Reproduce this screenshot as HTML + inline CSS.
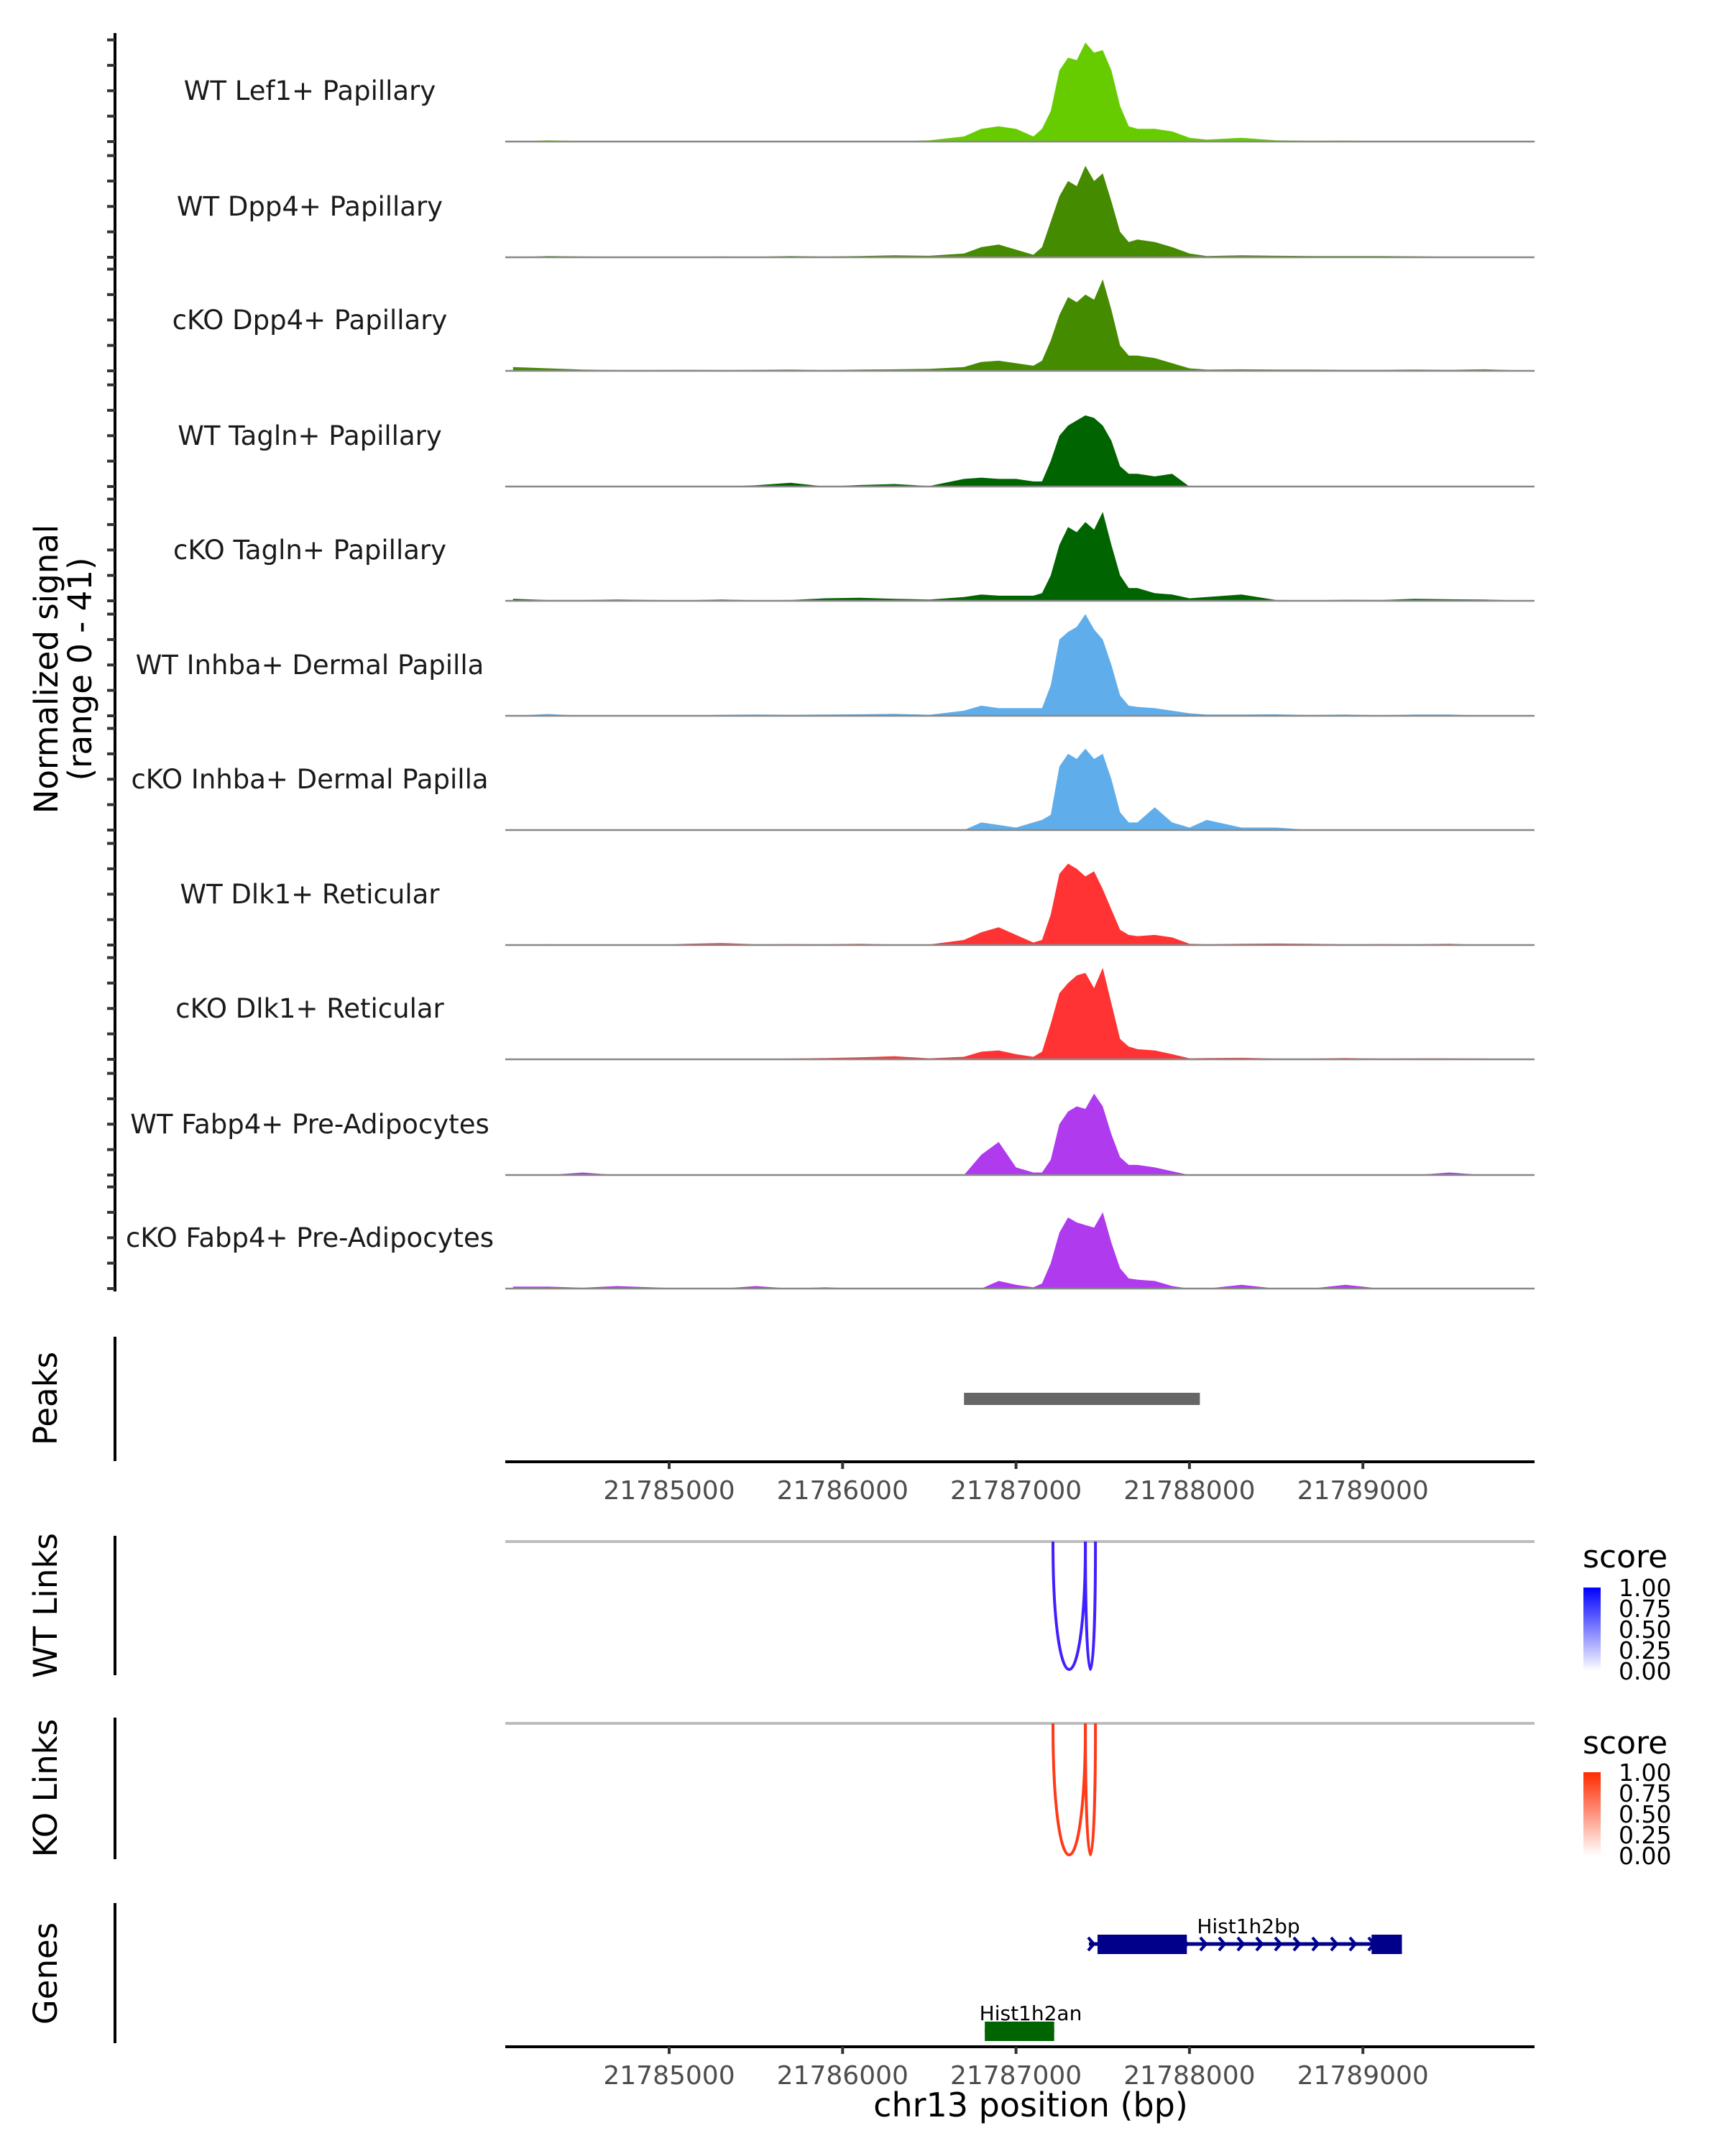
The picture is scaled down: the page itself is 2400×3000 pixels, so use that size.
<!DOCTYPE html>
<html><head><meta charset="utf-8">
<style>
html,body{margin:0;padding:0;background:#fff;}
svg{display:block;font-family:"DejaVu Sans","Liberation Sans",sans-serif;}
</style></head>
<body>
<svg id="fig" width="2400" height="3000" viewBox="0 0 2400 3000" xmlns="http://www.w3.org/2000/svg">
<rect width="2400" height="3000" fill="#fff"/>
<g id="tracks"></g>
<line x1="160" y1="46" x2="160" y2="1797" stroke="#000" stroke-width="4"/>
<g id="yticks"></g>
<text transform="translate(80,931) rotate(-90)" text-anchor="middle" font-size="45" fill="#000">Normalized signal</text>
<text transform="translate(127,931) rotate(-90)" text-anchor="middle" font-size="45" fill="#000">(range 0 - 41)</text>

<line x1="160" y1="1860" x2="160" y2="2033" stroke="#000" stroke-width="4"/>
<text transform="translate(79,1946) rotate(-90)" text-anchor="middle" font-size="45">Peaks</text>
<g id="peaks"></g>
<g id="axis1"></g>

<line x1="160" y1="2137" x2="160" y2="2331" stroke="#000" stroke-width="4"/>
<text transform="translate(79,2234) rotate(-90)" text-anchor="middle" font-size="45">WT Links</text>
<line x1="160" y1="2390" x2="160" y2="2587" stroke="#000" stroke-width="4"/>
<text transform="translate(79,2488) rotate(-90)" text-anchor="middle" font-size="45">KO Links</text>
<g id="links"></g>

<defs>
<linearGradient id="gBlue" x1="0" y1="1" x2="0" y2="0"><stop offset="0" stop-color="#fff"/><stop offset="1" stop-color="#0000ff"/></linearGradient>
<linearGradient id="gRed" x1="0" y1="1" x2="0" y2="0"><stop offset="0" stop-color="#fff"/><stop offset="1" stop-color="#ff2a00"/></linearGradient>
</defs>
<g>
<text x="2202" y="2181" font-size="44">score</text>
<rect x="2203" y="2209" width="24" height="116" fill="url(#gBlue)"/>
<g font-size="33">
<text x="2252" y="2221">1.00</text><text x="2252" y="2250">0.75</text><text x="2252" y="2279">0.50</text><text x="2252" y="2308">0.25</text><text x="2252" y="2337">0.00</text></g>
</g>
<g>
<text x="2202" y="2440" font-size="44">score</text>
<rect x="2203" y="2466" width="24" height="116" fill="url(#gRed)"/>
<g font-size="33">
<text x="2252" y="2478">1.00</text><text x="2252" y="2507">0.75</text><text x="2252" y="2536">0.50</text><text x="2252" y="2565">0.25</text><text x="2252" y="2594">0.00</text></g>
</g>

<line x1="160" y1="2648" x2="160" y2="2843" stroke="#000" stroke-width="4"/>
<text transform="translate(79,2746) rotate(-90)" text-anchor="middle" font-size="45">Genes</text>
<g id="genes"></g>
<g id="axis2"></g>
<text x="1434" y="2945" text-anchor="middle" font-size="46">chr13 position (bp)</text>
</svg>
<script>
// genomic bin positions (bp)
const positions = [21784100,21784300,21784500,21784700,21784900,21785100,21785300,21785500,21785700,21785900,21786100,21786300,21786500,21786700,21786800,21786900,21787000,21787100,21787150,21787200,21787250,21787300,21787350,21787400,21787450,21787500,21787550,21787600,21787650,21787700,21787800,21787900,21788000,21788100,21788300,21788500,21788700,21788900,21789100,21789300,21789500,21789700,21790000];
const trackNames = ["WT Lef1+ Papillary","WT Dpp4+ Papillary","cKO Dpp4+ Papillary","WT Tagln+ Papillary","cKO Tagln+ Papillary","WT Inhba+ Dermal Papilla","cKO Inhba+ Dermal Papilla","WT Dlk1+ Reticular","cKO Dlk1+ Reticular","WT Fabp4+ Pre-Adipocytes","cKO Fabp4+ Pre-Adipocytes"];
const trackColors = ["#66cc00","#458b00","#458b00","#006400","#006400","#5faeeb","#5faeeb","#ff3333","#ff3333","#b03aee","#b03aee"];
const wtLef1 = [0,0.5,0.2,0.1,0,0.1,0.2,0.1,0,0.1,0.2,0.1,0.5,2,5,6,5,2,5,12,28,33,32,39,35,36,28,14,6,5,5,4,1.5,0.8,1.5,0.5,0.3,0.4,0.1,0.1,0.1,0.1,0.1];
const wtDpp4 = [0,0.5,0.3,0.2,0.1,0.2,0.3,0.2,0.5,0.3,0.5,0.8,0.6,1.5,4,5,3,1,4,14,24,30,28,36,30,33,22,10,6,7,6,4,1.5,0.5,0.8,0.6,0.5,0.5,0.5,0.4,0.2,0.1,0];
const koDpp4 = [1.5,1,0.5,0.3,0.3,0.4,0.3,0.4,0.5,0.3,0.5,0.6,0.8,1.5,3.5,4,3,2,4,12,22,29,27,30,28,36,24,10,6,6,5,3,1,0.5,0.6,0.5,0.5,0.4,0.4,0.5,0.4,0.6,0];
const wtTagln = [0,0,0,0,0,0,0,0.5,1.5,0,0.6,1,0.2,3,3.5,3,3,2,2,10,20,24,26,28,27,24,18,8,5,5,4,5,0,0,0,0,0,0,0,0,0,0,0];
const koTagln = [0.8,0.3,0.3,0.5,0.3,0.2,0.5,0.2,0.3,1,1.2,0.8,0.5,1.5,2.5,2,2,2,3,10,22,29,27,31,28,35,22,10,5,5,3,2.5,1,1.5,2.5,0.3,0.2,0.4,0.3,0.8,0.6,0.5,0];
const wtInhba = [0,0.7,0,0,0,0,0.4,0.5,0.4,0.5,0.6,0.8,0.4,2,4,3,3,3,3,12,30,33,35,40,34,30,20,8,4,3.5,3,2,1,0.5,0.5,0.6,0.3,0.5,0.2,0.5,0.5,0,0];
const koInhba = [0,0,0,0,0,0,0,0,0,0,0,0,0,0,3,2,1,3,4,6,25,30,28,32,28,30,20,7,3,3,9,3,1,4,1,1,0,0,0,0,0,0,0];
const wtDlk1 = [0,0.3,0,0,0,0.5,0.8,0.3,0.4,0.3,0.5,0.2,0.2,2,5,7,4,1,2,12,28,32,30,27,29,22,14,6,4,3.5,4,3,0.5,0.3,0.5,0.6,0.5,0.3,0.4,0.3,0.5,0,0];
const koDlk1 = [0,0.2,0,0,0,0,0,0,0.3,0.5,0.8,1.2,0.4,1,3,3.5,2,1,3,14,26,30,33,34,28,36,22,8,5,4,3.5,2,0.4,0.5,0.6,0.3,0.3,0.5,0.3,0.4,0.4,0.3,0];
const wtFabp4 = [0,0,1,0,0,0,0,0,0,0,0,0,0,0,8,13,3,1,1,6,20,25,27,26,32,27,16,7,4,4,3,1.5,0,0,0,0,0,0,0,0,1,0,0];
const koFabp4 = [0.8,0.8,0.3,1,0.5,0,0,1,0,0.5,0,0,0,0,0,3,1.5,0.5,2,10,22,28,26,25,24,30,18,8,4,3.5,3,1,0,0,1.5,0,0,1.5,0,0,0,0,0];
const trackValues = [wtLef1,wtDpp4,koDpp4,wtTagln,koTagln,wtInhba,koInhba,wtDlk1,koDlk1,wtFabp4,koFabp4];
const yMax = 41;
const xTicks = [21785000,21786000,21787000,21788000,21789000];
const peakStart = [21786700];
const peakEnd = [21788060];
const linkStart = [21787213,21787400];
const linkEnd = [21787400,21787458];
const linkScore = [1,1];
const geneNames = ["Hist1h2bp","Hist1h2an"];
const geneStart = [21787420,21786820];
const geneEnd = [21789225,21787220];
const exonStart = [21787470,21789050,21786820];
const exonEnd = [21787985,21789225,21787220];
const exonGene = [0,0,1];

const NS="http://www.w3.org/2000/svg";
const X0=931, BP0=21785000, PXBP=0.2413, PLOTL=703, PLOTR=2135;
function xs(bp){return X0+(bp-BP0)*PXBP;}
const baselines=[197,358,516,677,836,996,1155,1315,1474,1635,1793];
const UNIT=145/yMax;
function ys(i,v){return baselines[i]-v*UNIT;}
function mk(tag,attrs,parent){const e=document.createElementNS(NS,tag);for(const k in attrs)e.setAttribute(k,attrs[k]);parent.appendChild(e);return e;}

const tracks=document.getElementById('tracks');
const yt=document.getElementById('yticks');
trackValues.forEach((vals,i)=>{
  const g=mk('g',{},tracks);
  
  
  let d='M'+PLOTL+','+baselines[i]+' L'+xs(positions[0]).toFixed(1)+','+baselines[i];
  vals.forEach((v,j)=>{d+=' L'+xs(positions[j]).toFixed(1)+','+ys(i,v).toFixed(1);});
  d+=' L'+xs(positions[positions.length-1]).toFixed(1)+','+baselines[i]+' Z';
  const a=mk('path',{d:d,fill:trackColors[i]},g);
  
  
  const b=mk('line',{x1:PLOTL,x2:PLOTR,y1:baselines[i],y2:baselines[i],stroke:'#888',"stroke-width":2.5},g);
  
  
  const t=mk('text',{x:431,y:baselines[i]-58,"text-anchor":"middle","font-size":37,fill:"#1a1a1a"},g);
  t.textContent=trackNames[i];
  
  
  for(let k=0;k<=40;k+=10){
    const tk=mk('line',{x1:149,x2:160,y1:ys(i,k),y2:ys(i,k),stroke:'#333',"stroke-width":4},yt);
    
    
  }
});

const pk=document.getElementById('peaks');
peakStart.forEach((s,i)=>{
  const r=mk('rect',{x:xs(s),y:1938,width:xs(peakEnd[i])-xs(s),height:17,fill:'#666'},pk);
  
  
});

function axis(id,y){
  const g=document.getElementById(id);
  const l=mk('line',{x1:PLOTL,x2:PLOTR,y1:y,y2:y,stroke:'#000',"stroke-width":4},g);
  
  
  xTicks.forEach(t=>{
    const tk=mk('line',{x1:xs(t),x2:xs(t),y1:y,y2:y+10,stroke:'#333',"stroke-width":4},g);
    
    
    const tx=mk('text',{x:xs(t),y:y+52,"text-anchor":"middle","font-size":36,fill:"#4d4d4d"},g);
    tx.textContent=t;
    
    
  });
}
axis('axis1',2034);
axis('axis2',2848);

const lk=document.getElementById('links');
[[2145,2323,'#4020ff'],[2398,2581,'#ff3a1a']].forEach((p,k)=>{
  const gl=mk('line',{x1:PLOTL,x2:PLOTR,y1:p[0],y2:p[0],stroke:'#bdbdbd',"stroke-width":4},lk);
  
  
  linkStart.forEach((s,i)=>{
    const x1=xs(s),x2=xs(linkEnd[i]);
    const cy=p[0]+(p[1]-p[0])*linkScore[i]/0.75;
    const a=mk('path',{d:`M${x1},${p[0]} C${x1},${cy} ${x2},${cy} ${x2},${p[0]}`,fill:'none',stroke:p[2],"stroke-width":4},lk);
    
    
  });
});

const gn=document.getElementById('genes');
const geneY=[2705,2826], geneCol=['#00008b','#006400'];
geneNames.forEach((n,i)=>{
  const y=geneY[i];
  const l=mk('line',{x1:xs(geneStart[i]),x2:xs(geneEnd[i]),y1:y,y2:y,stroke:geneCol[i],"stroke-width":5},gn);
  
  
  if(i===0){
    for(let x=xs(geneStart[i])+4;x<xs(geneEnd[i]);x+=26){
      const c=mk('path',{d:`M${x-5},${y-9} L${x+3},${y} L${x-5},${y+9}`,fill:'none',stroke:geneCol[i],"stroke-width":4},gn);
      
      
    }
  }
  const t=mk('text',{x:i===0?1737:1434,y:i===0?2690:2811,"text-anchor":"middle","font-size":28,fill:'#000'},gn);
  t.textContent=n;
  
  
});
exonStart.forEach((s,j)=>{
  const gi=exonGene[j];
  const r=mk('rect',{x:xs(s),y:geneY[gi]-13,width:xs(exonEnd[j])-xs(s),height:27,fill:geneCol[gi]},gn);
  
  
});
</script>
</body></html>
